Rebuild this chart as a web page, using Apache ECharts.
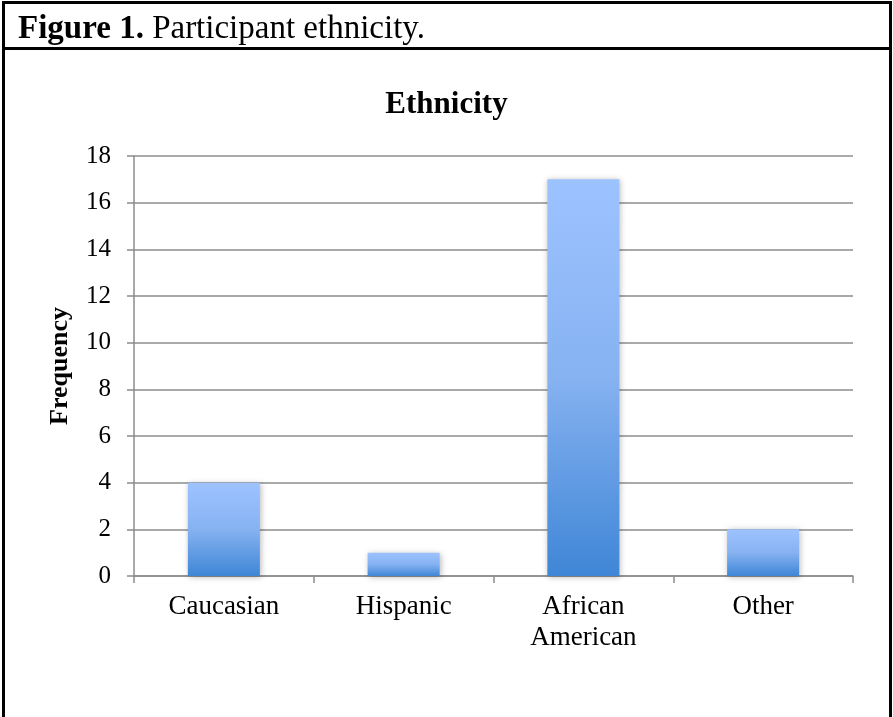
<!DOCTYPE html>
<html>
<head>
<meta charset="utf-8">
<script src="https://cdn.jsdelivr.net/npm/echarts@6/dist/echarts.min.js"></script>
<style>
  html, body { margin: 0; padding: 0; background: #fff; }
  #main { width: 893px; height: 717px; }
</style>
</head>
<body>
<div id="main"></div>
<script>
var categories = ['Caucasian', 'Hispanic', 'African\nAmerican', 'Other'];
var frequency = [4, 1, 17, 2];
var yTicks = { min: 0, max: 18, interval: 2 };

var serif = '"Liberation Serif", "DejaVu Serif", serif';
var chart = echarts.init(document.getElementById('main'));

chart.setOption({
  backgroundColor: '#fff',
  animation: false,
  title: [
    {
      text: '{b|Figure 1.} Participant ethnicity.',
      left: 13, top: 8,
      textStyle: {
        fontFamily: serif, fontSize: 33, fontWeight: 'normal', color: '#000',
        rich: { b: { fontFamily: serif, fontSize: 33, fontWeight: 'bold', color: '#000' } }
      }
    },
    {
      text: 'Ethnicity',
      left: 'center', top: 84,
      textStyle: { fontFamily: serif, fontSize: 31, fontWeight: 'bold', color: '#000' }
    }
  ],
  graphic: [
    { type: 'rect', shape: { x: 3.5, y: 2.5, width: 887, height: 730 }, style: { fill: 'none', stroke: '#000', lineWidth: 3 } },
    { type: 'line', shape: { x1: 3, y1: 48.5, x2: 891, y2: 48.5 }, style: { stroke: '#000', lineWidth: 3 } }
  ],
  grid: { left: 134, right: 40, top: 156, bottom: 141 },
  xAxis: {
    type: 'category',
    data: categories,
    axisLine: { lineStyle: { color: '#8c8c8c', width: 1.5 } },
    axisTick: { show: true, length: 7, lineStyle: { color: '#8c8c8c', width: 1.5 } },
    axisLabel: { fontFamily: serif, fontSize: 27, color: '#000', margin: 15, lineHeight: 31 }
  },
  yAxis: {
    type: 'value',
    min: yTicks.min, max: yTicks.max, interval: yTicks.interval,
    name: 'Frequency',
    nameLocation: 'middle',
    nameGap: 61,
    nameTextStyle: { fontFamily: serif, fontSize: 26, fontWeight: 'bold', color: '#000' },
    axisLine: { show: true, lineStyle: { color: '#8c8c8c', width: 1.5 } },
    axisTick: { show: true, length: 7, lineStyle: { color: '#8c8c8c', width: 1.5 } },
    axisLabel: { fontFamily: serif, fontSize: 25, color: '#000', margin: 23 },
    splitLine: { lineStyle: { color: '#8c8c8c', width: 1.5 } }
  },
  series: [{
    type: 'bar',
    data: frequency,
    barWidth: 72,
    itemStyle: {
      color: new echarts.graphic.LinearGradient(0, 0, 0, 1, [
        { offset: 0, color: '#9dc3ff' },
        { offset: 0.5, color: '#86b2f1' },
        { offset: 1, color: '#3f86d6' }
      ]),
      shadowColor: 'rgba(0,0,0,0.28)',
      shadowBlur: 6,
      shadowOffsetX: 1,
      shadowOffsetY: 1
    }
  }]
});
</script>
</body>
</html>
